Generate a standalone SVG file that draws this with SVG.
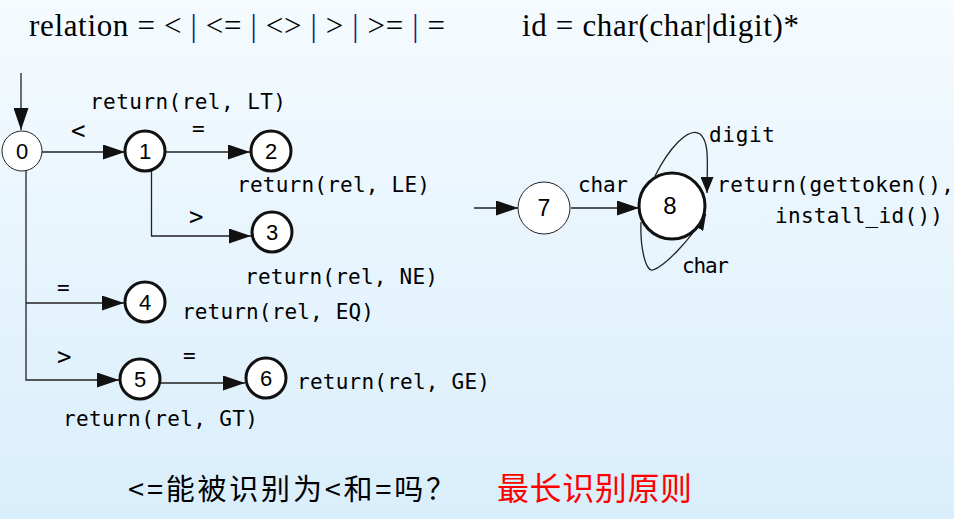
<svg xmlns="http://www.w3.org/2000/svg" width="954" height="519" viewBox="0 0 954 519">
<defs>
<linearGradient id="bg" x1="0" y1="0" x2="0" y2="1">
<stop offset="0" stop-color="#f5fbff"/>
<stop offset="1" stop-color="#d9eefb"/>
</linearGradient>
<marker id="arr" markerUnits="userSpaceOnUse" markerWidth="22" markerHeight="15" refX="22" refY="7.5" orient="auto">
<path d="M0,0 L22,7.5 L0,15 Z" fill="#111"/>
</marker>
<marker id="arrs" markerUnits="userSpaceOnUse" markerWidth="16" markerHeight="13" refX="16" refY="6.5" orient="auto">
<path d="M0,0 L16,6.5 L0,13 Z" fill="#111"/>
</marker>
</defs>
<style>
.ti{font-family:"Liberation Serif","Times New Roman",serif;font-size:31px;fill:#000}
.pp{fill:#10208a}
.lb{font-family:"DejaVu Sans Mono","Liberation Mono",monospace;font-size:21px;fill:#000}
.op{font-family:"DejaVu Sans Mono","Liberation Mono",monospace;font-size:24px;fill:#000}
.nd{font-family:"Liberation Sans",Arial,sans-serif;font-size:22px;fill:#000;text-anchor:middle}
.thin{fill:#fff;stroke:#222;stroke-width:1}
.thick{fill:#fff;stroke:#111;stroke-width:3}
.e{fill:none;stroke:#222;stroke-width:1.3}
.cn{font-family:"Noto Sans CJK SC","Noto Sans CJK JP",sans-serif;font-size:29px;fill:#000}
.red{font-family:"Noto Sans CJK SC","Noto Sans CJK JP",sans-serif;font-size:32px;fill:#ff0000}
</style>
<rect x="0" y="0" width="954" height="519" fill="url(#bg)"/>

<text class="ti" x="29" y="36" textLength="416" lengthAdjust="spacing">relation = &lt; <tspan class="pp">|</tspan> &lt;= <tspan class="pp">|</tspan> &lt;&gt; <tspan class="pp">|</tspan> &gt; <tspan class="pp">|</tspan> &gt;= <tspan class="pp">|</tspan> =</text>
<text class="ti" x="522" y="36" textLength="277" lengthAdjust="spacing">id = char(char|digit)*</text>

<g id="connectors">
<line class="e" x1="21" y1="73" x2="21" y2="130" marker-end="url(#arr)"/>
<line class="e" x1="42" y1="152" x2="125" y2="152" marker-end="url(#arr)"/>
<line class="e" x1="165" y1="152" x2="250" y2="152" marker-end="url(#arr)"/>
<polyline class="e" points="151.5,171 151.5,236 251,236" marker-end="url(#arr)"/>
<polyline class="e" points="26,169 26,380 119,380" marker-end="url(#arr)"/>
<line class="e" x1="26" y1="303" x2="124" y2="303" marker-end="url(#arr)"/>
<line class="e" x1="161" y1="383" x2="245" y2="383" marker-end="url(#arr)"/>
<line class="e" x1="474" y1="208" x2="518" y2="208" marker-end="url(#arr)"/>
<line class="e" x1="571" y1="208" x2="639" y2="208" marker-end="url(#arr)"/>
<path class="e" d="M655,176 C668,150 688,126 700,134 C710,142 707,165 707,193" marker-end="url(#arrs)"/>
<path class="e" d="M641,222 C640,245 645,272 653,270 C665,266 690,240 706,214" marker-end="url(#arrs)"/>
</g>

<g id="labels">
<text class="lb" x="90" y="109" textLength="196" lengthAdjust="spacing">return(rel, LT)</text>
<text class="op" x="71" y="139">&lt;</text>
<text class="lb" x="192" y="136">=</text>
<text class="lb" x="237" y="192" textLength="193" lengthAdjust="spacing">return(rel, LE)</text>
<text class="op" x="189" y="225">&gt;</text>
<text class="lb" x="245" y="284" textLength="193" lengthAdjust="spacing">return(rel, NE)</text>
<text class="lb" x="57" y="295">=</text>
<text class="lb" x="182" y="319" textLength="192" lengthAdjust="spacing">return(rel, EQ)</text>
<text class="op" x="57" y="365">&gt;</text>
<text class="lb" x="183" y="363">=</text>
<text class="lb" x="297" y="389" textLength="193" lengthAdjust="spacing">return(rel, GE)</text>
<text class="lb" x="63" y="426" textLength="195" lengthAdjust="spacing">return(rel, GT)</text>
<text class="lb" x="578" y="192" textLength="50" lengthAdjust="spacing">char</text>
<text class="lb" x="709" y="142" textLength="66" lengthAdjust="spacing">digit</text>
<text class="lb" x="682" y="273" textLength="47" lengthAdjust="spacing">char</text>
<text class="lb" x="717" y="192" textLength="237" lengthAdjust="spacing">return(gettoken(),</text>
<text class="lb" x="775" y="223" textLength="168" lengthAdjust="spacing">install_id())</text>
</g>

<g id="node0"><circle class="thin" cx="22" cy="151" r="20"/><text class="nd" x="22" y="159">0</text></g>
<g id="node1"><circle class="thick" cx="145" cy="151" r="20"/><text class="nd" x="145" y="159">1</text></g>
<g id="node2"><circle class="thick" cx="271" cy="151" r="20"/><text class="nd" x="271" y="159">2</text></g>
<g id="node3"><circle class="thick" cx="272" cy="232" r="20"/><text class="nd" x="272" y="240">3</text></g>
<g id="node4"><circle class="thick" cx="145" cy="302" r="20"/><text class="nd" x="145" y="310">4</text></g>
<g id="node5"><circle class="thick" cx="140" cy="379" r="20"/><text class="nd" x="140" y="387">5</text></g>
<g id="node6"><circle class="thick" cx="266" cy="378" r="20"/><text class="nd" x="266" y="386">6</text></g>
<g id="node7"><circle class="thin" cx="544" cy="208" r="26"/><text class="nd" x="544" y="216" style="font-size:23px">7</text></g>
<g id="node8"><circle class="thick" cx="672" cy="206" r="33"/><text class="nd" x="670" y="214" style="font-size:24px">8</text></g>

<text class="cn" x="128" y="500" textLength="327" lengthAdjust="spacing">&lt;=能被识别为&lt;和=吗？</text>
<text class="red" x="497" y="500" textLength="195" lengthAdjust="spacing">最长识别原则</text>
</svg>
